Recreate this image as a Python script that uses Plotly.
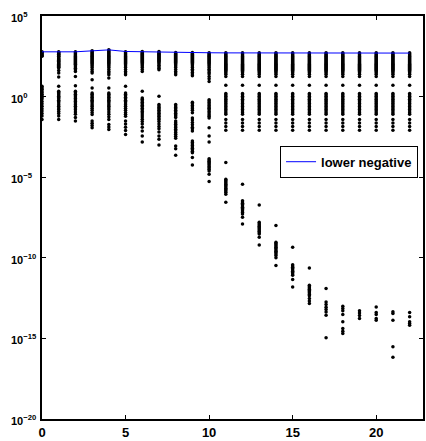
import plotly.graph_objects as go

# x positions (one column of points per integer)
columns = list(range(23))

# blue line values (one per column)
lower_negative = [600, 600, 600, 690, 790, 630, 600, 575, 525, 525, 525, 515, 515,
                  500, 500, 500, 500, 500, 500, 500, 500, 500, 500]

# dot values as log10 exponents, read column by column
c0 = [2.78, 2.74, 2.70, 2.65, 2.60, 2.55, 2.50, 0.64, 0.55, 0.45, 0.35, 0.25, 0.15, 0.05,
      -0.05, -0.15, -0.30, -0.45, -0.60, -0.75, -0.90, -1.05, -1.20, -1.42]
c1 = [2.78, 2.74, 2.70, 2.66, 2.62, 2.58, 2.54, 2.50, 2.45, 2.40, 2.35, 2.30, 2.25, 2.20,
      2.15, 2.10, 2.05, 2.00, 1.94, 1.88, 1.82, 1.77, 1.62, 1.46, 1.22, 0.64, 0.33, 0.25,
      0.18, 0.10, 0.02, -0.06, -0.14, -0.22, -0.30, -0.40, -0.50, -0.60, -0.70, -0.80,
      -0.92, -1.05, -1.20, -1.42]
c2 = [2.78, 2.72, 2.66, 2.60, 2.54, 2.48, 2.42, 2.36, 2.30, 2.24, 2.18, 2.12, 2.06, 2.00,
      1.92, 1.84, 1.76, 1.66, 1.56, 1.25, 0.68, 0.33, 0.24, 0.15, 0.06, -0.03, -0.12,
      -0.21, -0.30, -0.40, -0.50, -0.60, -0.70, -0.82, -0.95, -1.10, -1.30, -1.52]
c3 = [2.84, 2.78, 2.72, 2.66, 2.60, 2.54, 2.48, 2.42, 2.36, 2.30, 2.24, 2.18, 2.12, 2.05,
      1.98, 1.90, 1.80, 1.68, 1.56, 1.46, 1.05, 0.54, 0.23, 0.14, 0.05, -0.04, -0.13,
      -0.22, -0.31, -0.40, -0.50, -0.60, -0.72, -0.85, -0.98, -1.11, -1.52, -1.65, -1.80,
      -1.93]
c4 = [2.90, 2.84, 2.78, 2.72, 2.66, 2.60, 2.54, 2.48, 2.42, 2.36, 2.30, 2.24, 2.18, 2.12,
      2.05, 1.98, 1.90, 1.80, 1.68, 1.56, 1.46, 1.36, 1.15, 0.54, 0.23, 0.14, 0.05, -0.04,
      -0.13, -0.22, -0.31, -0.40, -0.50, -0.60, -0.70, -0.82, -0.95, -1.10, -1.25, -1.42,
      -1.73, -1.88, -2.04]
c5 = [2.78, 2.72, 2.66, 2.60, 2.54, 2.48, 2.42, 2.36, 2.30, 2.24, 2.18, 2.12, 2.05, 1.98,
      1.90, 1.80, 1.68, 1.56, 1.46, 1.36, 0.64, 0.23, 0.14, 0.05, -0.04, -0.13, -0.22,
      -0.31, -0.40, -0.50, -0.60, -0.72, -0.85, -0.98, -1.10, -1.22, -1.52, -1.70, -1.90,
      -2.10, -2.35]
c6 = [2.80, 2.74, 2.68, 2.62, 2.56, 2.50, 2.44, 2.38, 2.32, 2.26, 2.20, 2.13, 2.06, 1.98,
      1.90, 1.80, 1.68, 1.56, 0.33, -0.08, -0.17, -0.26, -0.35, -0.44, -0.53, -0.62,
      -0.72, -0.82, -0.92, -1.02, -1.14, -1.26, -1.40, -1.55, -1.70, -1.90, -2.14, -2.45,
      -2.82]
c7 = [2.80, 2.74, 2.68, 2.62, 2.56, 2.50, 2.44, 2.38, 2.32, 2.26, 2.20, 2.12, 2.04, 1.95,
      1.85, 1.76, 1.67, 0.02, -0.49, -0.58, -0.67, -0.76, -0.85, -0.94, -1.03, -1.12,
      -1.22, -1.32, -1.42, -1.55, -1.70, -1.85, -2.00, -2.20, -2.45, -2.65, -3.00]
c8 = [2.74, 2.68, 2.62, 2.56, 2.50, 2.44, 2.38, 2.32, 2.26, 2.20, 2.13, 2.06, 1.98, 1.90,
      1.80, 1.68, 1.56, 1.46, 1.36, -0.49, -0.58, -0.67, -0.76, -0.85, -0.94, -1.03,
      -1.12, -1.21, -1.30, -1.52, -1.62, -1.72, -1.82, -1.92, -2.02, -2.12, -2.22, -2.34,
      -2.46, -2.58, -3.07, -3.23, -3.64]
c9 = [2.74, 2.68, 2.62, 2.56, 2.50, 2.44, 2.38, 2.32, 2.26, 2.20, 2.13, 2.06, 1.98, 1.90,
      1.80, 1.70, 1.60, 1.50, 1.40, 1.30, -0.35, -0.45, -0.55, -0.65, -0.75, -0.85, -1.00,
      -1.32, -1.45, -1.60, -1.75, -1.90, -2.00, -2.14, -2.76, -2.85, -2.94, -3.03, -3.12,
      -3.21, -3.30, -3.39, -3.48, -3.78, -4.24]
c10 = [2.72, 2.66, 2.60, 2.54, 2.48, 2.42, 2.36, 2.30, 2.24, 2.18, 2.12, 2.05, 1.98, 1.90,
       1.80, 1.70, 1.60, 1.50, 1.40, 1.25, 1.10, 0.94, -0.19, -0.28, -0.37, -0.46, -0.55,
       -0.64, -0.73, -0.82, -0.92, -1.02, -1.12, -1.22, -1.32, -1.93, -2.45, -2.82, -3.85,
       -3.93, -4.01, -4.09, -4.17, -4.25, -4.33, -4.41, -4.50, -4.61, -4.81, -5.27]

# columns 11..22 share the same upper/middle band
upper_late = [2.72, 2.66, 2.60, 2.54, 2.48, 2.42, 2.36, 2.30, 2.24, 2.18, 2.12, 2.06, 2.00,
              1.94, 1.88, 1.82, 1.76, 1.70, 1.64, 1.56, 1.48, 1.38, 1.25]
mid_late = [0.70, 0.20, 0.11, 0.02, -0.07, -0.16, -0.25, -0.34, -0.43, -0.52, -0.61, -0.70,
            -0.80, -0.90, -1.00, -1.10, -1.42, -1.63, -1.85, -2.08]
low_11 = [-4.09, -5.12, -5.20, -5.28, -5.36, -5.44, -5.52, -5.60, -5.68, -5.76, -5.84, -5.94,
          -6.05, -6.56]
low_12 = [-5.43, -6.46, -6.54, -6.62, -6.70, -6.78, -6.86, -6.94, -7.02, -7.10, -7.19, -7.28,
          -7.49, -7.90]
low_13 = [-6.73, -7.80, -7.88, -7.96, -8.04, -8.12, -8.20, -8.28, -8.36, -8.44, -8.52, -8.72,
          -9.20]
low_14 = [-8.00, -9.03, -9.11, -9.19, -9.27, -9.35, -9.43, -9.51, -9.59, -9.67, -9.76, -9.86,
          -10.00, -10.47]
low_15 = [-9.34, -10.43, -10.51, -10.59, -10.67, -10.75, -10.83, -10.91, -11.00, -11.09,
          -11.34, -11.81]
low_16 = [-10.64, -11.71, -11.79, -11.87, -11.95, -12.03, -12.11, -12.19, -12.27, -12.35,
          -12.53, -12.68, -12.84]
low_17 = [-11.91, -12.74, -12.90, -13.06, -13.20, -13.36, -13.56, -14.96]
low_18 = [-13.00, -13.15, -13.29, -13.52, -13.97, -14.38, -14.55, -14.69]
low_19 = [-13.29, -13.43, -13.58, -13.77]
low_20 = [-13.05, -13.40, -13.52, -13.77, -13.87]
low_21 = [-13.35, -13.46, -13.87, -15.52, -16.17]
low_22 = [-13.40, -13.66, -13.97, -14.07, -14.18]

early_cols = [c0, c1, c2, c3, c4, c5, c6, c7, c8, c9, c10]
late_lows = [low_11, low_12, low_13, low_14, low_15, low_16, low_17, low_18, low_19,
             low_20, low_21, low_22]

# tick labels
ytick_exps = [5, 0, -5, -10, -15, -20]
xtick_vals = [0, 5, 10, 15, 20]

dot_x, dot_y = [], []
for i, col in enumerate(early_cols):
    for e in col:
        dot_x.append(columns[i])
        dot_y.append(10 ** e)
for j, low in enumerate(late_lows):
    for e in upper_late + mid_late + low:
        dot_x.append(columns[11 + j])
        dot_y.append(10 ** e)

FONT = "Liberation Sans, Arial, sans-serif"

fig = go.Figure()
fig.add_trace(go.Scatter(
    x=dot_x, y=dot_y, mode="markers",
    marker=dict(color="black", size=3.5, line=dict(width=0)),
    showlegend=False, hoverinfo="skip"))
fig.add_trace(go.Scatter(
    x=columns, y=lower_negative, mode="lines",
    line=dict(color="#0000ff", width=1),
    name="<b>lower negative</b>"))


def sup(e):
    s = str(e).replace("-", "\u2212")
    return f"<b>10<sup>{s}</sup></b>"


# y tick labels as left-aligned texts (the "10" sits in a fixed column)
for e in ytick_exps:
    fig.add_annotation(
        xref="paper", x=-33 / 383, xanchor="left",
        yref="y", y=e, yanchor="middle", yshift=-1,
        text=sup(e), showarrow=False,
        font=dict(size=11, family=FONT, color="black"))

fig.update_layout(
    width=426, height=441,
    margin=dict(l=42, r=1, t=16, b=20),
    paper_bgcolor="white", plot_bgcolor="white",
    font=dict(family=FONT, color="black"),
    xaxis=dict(
        range=[0, 22.8], tickvals=xtick_vals,
        ticktext=[f"<b>{v}</b>" for v in xtick_vals],
        ticks="inside", ticklen=4, tickcolor="black", tickwidth=1,
        mirror="allticks", showline=True, linecolor="black", linewidth=2,
        showgrid=False, zeroline=False, tickfont=dict(size=13, family=FONT)),
    yaxis=dict(
        type="log", range=[-20, 5],
        tickvals=[10 ** e for e in ytick_exps],
        showticklabels=False,
        ticks="inside", ticklen=4, tickcolor="black", tickwidth=1,
        mirror="allticks", showline=True, linecolor="black", linewidth=2,
        showgrid=False, zeroline=False),
    legend=dict(
        x=0.987, xanchor="right", y=0.678, yanchor="top",
        bordercolor="black", borderwidth=1, bgcolor="white",
        font=dict(size=13, family=FONT)),
)

fig.write_html("out.html")
